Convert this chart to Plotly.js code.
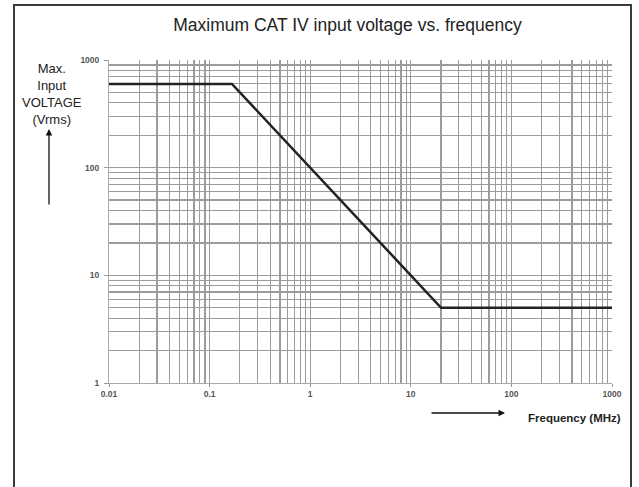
<!DOCTYPE html>
<html>
<head>
<meta charset="utf-8">
<script src="https://cdn.plot.ly/plotly-3.0.1.min.js"></script>
<style>
  html, body { margin: 0; padding: 0; background: #fff; }
  #wrap { position: relative; width: 639px; height: 487px; overflow: hidden; }
  #frame { position: absolute; left: 13px; top: 4px; width: 619px; height: 520px; border: 2px solid #3a3a3a; box-sizing: border-box; }
  #chart { position: absolute; left: 0; top: 0; width: 639px; height: 487px; }
</style>
</head>
<body>
<div id="wrap">
  <div id="frame"></div>
  <div id="chart"></div>
</div>
<script>
// Data
const frequencyMHz = [0.01, 0.1667, 20, 1000];
const maxVoltageVrms = [600, 600, 5, 5];
const xTickVals = [0.01, 0.1, 1, 10, 100, 1000];
const xTickText = ['0.01', '0.1', '1', '10', '100', '1000'];
const yTickVals = [1, 10, 100, 1000];
const yTickText = ['1', '10', '100', '1000'];

const L = 109, R = 612, T = 60, B = 383;
const px = x => (x - L) / (R - L);
const py = y => (B - y) / (B - T);

const trace = {
  x: frequencyMHz,
  y: maxVoltageVrms,
  type: 'scatter',
  mode: 'lines',
  line: { color: '#222', width: 2.5 },
  hoverinfo: 'skip'
};

const tickFont = { family: 'Liberation Sans, Arial, sans-serif', size: 8.5, color: '#555', weight: 'bold' };
const gridCol = '#9c9c9c';

const layout = {
  width: 639, height: 487,
  margin: { l: L, r: 639 - R, t: T, b: 487 - B, pad: 0 },
  paper_bgcolor: 'rgba(0,0,0,0)',
  plot_bgcolor: 'rgba(0,0,0,0)',
  showlegend: false,
  title: {
    text: 'Maximum CAT IV input voltage vs. frequency',
    font: { family: 'Liberation Sans, Arial, sans-serif', size: 17.5, color: '#222' },
    x: 347.5 / 639, xanchor: 'center', xref: 'container',
    y: 1 - 25 / 487, yanchor: 'middle', yref: 'container'
  },
  xaxis: {
    type: 'log',
    range: [-2, 3],
    tickmode: 'array', tickvals: xTickVals, ticktext: xTickText,
    tickfont: tickFont,
    ticks: 'outside', ticklen: 3, tickcolor: '#999',
    showline: true, linecolor: '#aaa', linewidth: 1,
    showgrid: true, gridcolor: gridCol, gridwidth: 1.2,
    minor: { dtick: 'D1', showgrid: true, gridcolor: gridCol, gridwidth: 1.2, ticks: '' },
    zeroline: false,
    fixedrange: true
  },
  yaxis: {
    type: 'log',
    range: [0, 3],
    tickmode: 'array', tickvals: yTickVals, ticktext: yTickText,
    tickfont: tickFont,
    ticks: 'outside', ticklen: 4, tickcolor: '#999',
    ticklabelstandoff: 3,
    showline: true, linecolor: '#aaa', linewidth: 1,
    showgrid: true, gridcolor: gridCol, gridwidth: 1.2,
    minor: { dtick: 'D1', showgrid: true, gridcolor: gridCol, gridwidth: 1.2, ticks: '' },
    zeroline: false,
    fixedrange: true
  },
  annotations: [
    {
      xref: 'paper', yref: 'paper',
      x: px(52), y: py(94),
      text: 'Max.<br>Input<br>VOLTAGE<br>(Vrms)',
      showarrow: false,
      font: { family: 'Liberation Sans, Arial, sans-serif', size: 13, color: '#222' },
      align: 'center', xanchor: 'center', yanchor: 'middle'
    },
    {
      xref: 'paper', yref: 'paper',
      x: px(49), y: py(129),
      text: '', showarrow: true,
      ax: 0, ay: 77,
      arrowhead: 2, arrowsize: 1, arrowwidth: 1.3, arrowcolor: '#111', standoff: 0, startstandoff: 0
    },
    {
      xref: 'paper', yref: 'paper',
      x: px(505), y: py(413),
      text: '', showarrow: true,
      ax: -75, ay: 0,
      arrowhead: 2, arrowsize: 1, arrowwidth: 1.3, arrowcolor: '#111', standoff: 0, startstandoff: 0
    },
    {
      xref: 'paper', yref: 'paper',
      x: px(574), y: py(418),
      text: '<b>Frequency (MHz)</b>',
      showarrow: false,
      font: { family: 'Liberation Sans, Arial, sans-serif', size: 11.5, color: '#222' },
      xanchor: 'center', yanchor: 'middle'
    }
  ]
};

Plotly.newPlot('chart', [trace], layout, { staticPlot: true, displayModeBar: false });
</script>
</body>
</html>
